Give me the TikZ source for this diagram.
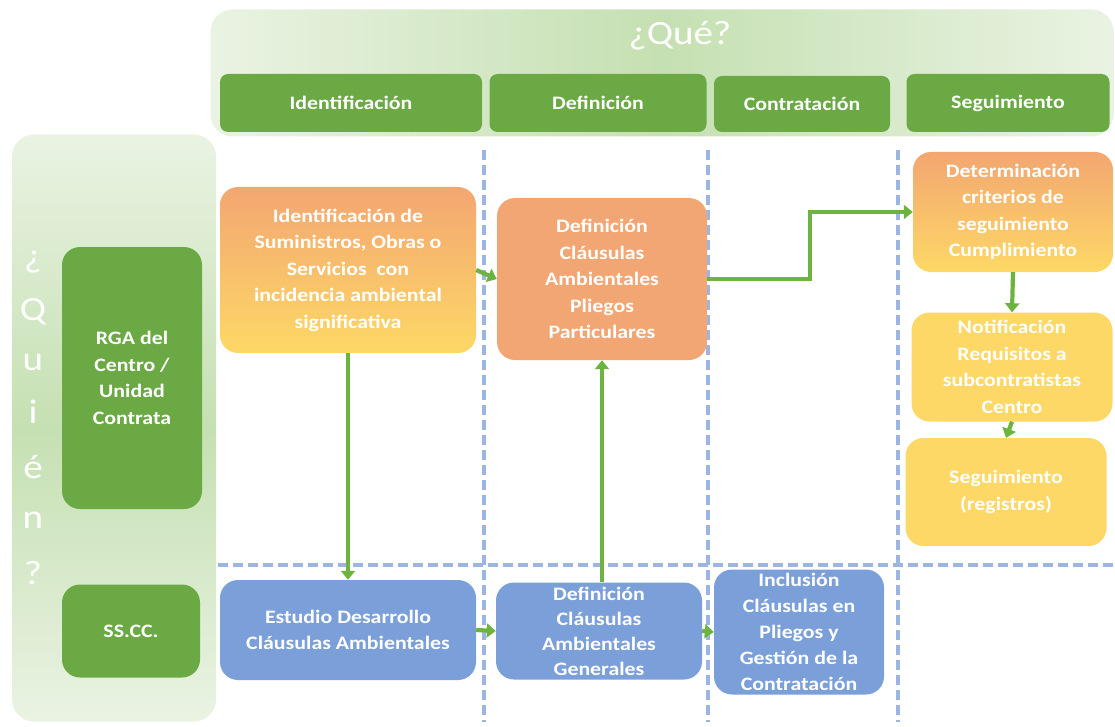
\documentclass[tikz,border=0pt]{standalone}
\usepackage{fontspec}
\setmainfont{Carlito}[FakeStretch=1.15]
\usetikzlibrary{arrows.meta,calc}
\definecolor{hdrgreen}{HTML}{6AA943}
\definecolor{argreen}{HTML}{6DB33F}
\definecolor{bannerlight}{HTML}{EAF3E3}
\definecolor{bannermid}{HTML}{C5E0B2}
\definecolor{orangetop}{HTML}{F3A671}
\definecolor{yellowbot}{HTML}{FDD866}
\definecolor{boxorange}{HTML}{F2A674}
\definecolor{boxyellow}{HTML}{FDD866}
\definecolor{boxblue}{HTML}{7B9FD9}
\definecolor{dashblue}{HTML}{9DB5E2}
\tikzset{
  box/.style={rounded corners=18pt, inner sep=2pt, align=center, text=white,
    font=\bfseries\fontsize{19}{26.5}\selectfont},
  hdr/.style={box, fill=hdrgreen, rounded corners=8pt, font=\bfseries\fontsize{19}{20}\selectfont},
  orgrad/.style={top color=orangetop, bottom color=yellowbot},
  sep/.style={dashblue, line width=3.5pt, dash pattern=on 10pt off 5pt},
  flow/.style={argreen, line width=4.2pt, -{Triangle[length=9pt,width=14pt]}},
}
\begin{document}
\begin{tikzpicture}[x=1pt,y=-1pt]
\useasboundingbox (0,0) rectangle (1115,727);
% banners
\node[rounded corners=22pt, minimum width=903pt, minimum height=127pt,
  left color=bannerlight, right color=bannerlight, middle color=bannermid] (que) at (662,73) {};
\node[text=white, font=\fontsize{34}{36}\selectfont, anchor=center] (quet) at (680,36) {¿Qué?};
\node[rounded corners=22pt, minimum width=204pt, minimum height=587pt,
  top color=bannerlight, bottom color=bannerlight, middle color=bannermid] (quien) at (114,428) {};
\foreach \ch/\yy [count=\i] in {¿/262,Q/312,u/363,i/412,é/467,n/520,?/573}
  \node[text=white, font=\fontsize{34}{36}\selectfont] (qq\i) at (33,\yy) {\ch};
% headers
\node[hdr, minimum width=262pt, minimum height=58pt] (h1) at (351,103) {Identificación};
\node[hdr, minimum width=217pt, minimum height=58pt] (h2) at (598,103) {Definición};
\node[hdr, minimum width=176pt, minimum height=56pt] (h3) at (802,104) {Contratación};
\node[hdr, minimum width=203pt, minimum height=58pt] (h4) at (1008,103) {Seguimiento};
% who
\node[box, fill=hdrgreen, minimum width=140pt, minimum height=262pt] (rga) at (132,378) {RGA del\\Centro /\\Unidad\\Contrata};
\node[box, fill=hdrgreen, minimum width=138pt, minimum height=93pt] (sscc) at (131,631) {SS.CC.};
% separators
\coordinate (v1t) at (484,150); \coordinate (v1b) at (484,722);
\coordinate (v2t) at (708,150); \coordinate (v2b) at (708,722);
\coordinate (v3t) at (898,150); \coordinate (v3b) at (898,722);
\coordinate (hl) at (218,565); \coordinate (hr) at (1115,565);
\draw[sep] (v1t) -- (v1b);
\draw[sep] (v2t) -- (v2b);
\draw[sep] (v3t) -- (v3b);
\draw[sep] (hl) -- (hr);
% process boxes
\node[box, orgrad, minimum width=256pt, minimum height=166pt] (ident) at (348,270)
  {Identificación de\\Suministros, Obras o\\Servicios\ \ con\\incidencia ambiental\\significativa};
\node[box, fill=boxorange, minimum width=210pt, minimum height=162pt] (defpart) at (602,279)
  {Definición\\Cláusulas\\Ambientales\\Pliegos\\Particulares};
\node[box, orgrad, minimum width=200pt, minimum height=120pt] (determ) at (1013,212)
  {Determinación\\criterios de\\seguimiento\\Cumplimiento};
\node[box, fill=boxyellow, minimum width=201pt, minimum height=109pt] (notif) at (1012,367)
  {Notificación\\Requisitos a\\subcontratistas\\Centro};
\node[box, fill=boxyellow, minimum width=201pt, minimum height=108pt] (segreg) at (1006,492)
  {Seguimiento\\(registros)};
\node[box, fill=boxblue, minimum width=256pt, minimum height=100pt] (estudio) at (348,630)
  {Estudio Desarrollo\\Cláusulas Ambientales};
\node[box, fill=boxblue, minimum width=206pt, minimum height=97pt,
  font=\bfseries\fontsize{19}{25}\selectfont] (defgen) at (599,631)
  {Definición\\Cláusulas\\Ambientales\\Generales};
\node[box, fill=boxblue, minimum width=170pt, minimum height=125pt,
  font=\bfseries\fontsize{19}{26}\selectfont] (incl) at (799,632)
  {Inclusión\\Cláusulas en\\Pliegos y\\Gestión de la\\Contratación};
% connectors
\draw[flow] (ident.east) -- (defpart.west);
\draw[flow] (ident.south) -- (estudio.north);
\draw[flow] (defgen.north -| defpart.south) -- (defpart.south);
\draw[flow] (defpart.east) -- ++(103,0) |- (determ.west);
\draw[flow] (determ.south) -- (notif.north);
\draw[flow] (notif.south) -- (segreg.north);
\draw[flow] (estudio.east) -- (defgen.west);
\draw[flow] (defgen.east) -- (incl.west);
\end{tikzpicture}
\end{document}
